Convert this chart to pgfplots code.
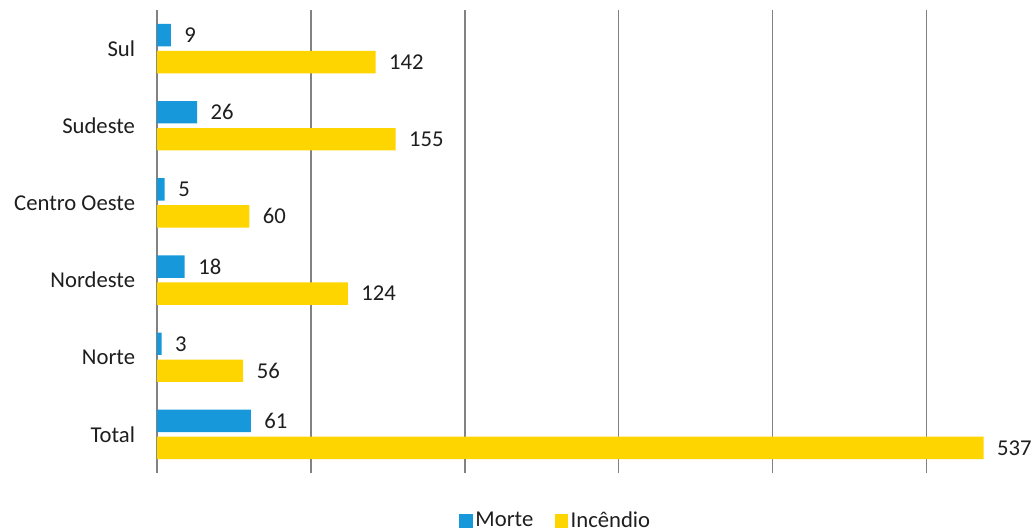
\documentclass[border=0pt]{standalone}
\usepackage{pgfplots}
\pgfplotsset{compat=1.18}
\usepackage{fontspec}
\setmainfont{Carlito}
\definecolor{morteblue}{RGB}{22,152,219}
\definecolor{incyellow}{RGB}{255,213,0}
\definecolor{gridgray}{RGB}{130,130,130}
\definecolor{txt}{RGB}{30,30,30}

\begin{document}
\begin{tikzpicture}
\fontsize{17}{20}\selectfont
\begin{axis}[
  at={(0,0)}, anchor=south west,
  scale only axis,
  width=646.5pt, height=347.25pt,
  xmin=0, xmax=560,
  ymin=-0.5, ymax=5.5,
  xbar,
  bar width=0.29,
  xtick={0,100,...,500},
  xticklabels={},
  xmajorgrids,
  major grid style={gridgray, line width=1pt},
  ytick={0,1,2,3,4,5},
  yticklabels={Total,Norte,Nordeste\hspace{4pt},Centro Oeste,Sudeste,Sul},
  yticklabel style={anchor=east, inner sep=0pt, xshift=-12pt, text=txt, font=\fontsize{17}{20}\selectfont},
  axis line style={draw=none},
  tick style={draw=none},
  /pgf/number format/assume math mode=true,
  nodes near coords,
  every node near coord/.append style={anchor=west, inner sep=0pt, xshift=10pt, text=txt, font=\fontsize{17}{20}\selectfont},
  legend style={at={(0.463,-0.104)}, anchor=center, draw=none, fill=none,
    legend columns=2, font=\fontsize{17}{20}\selectfont, text=txt,
    /tikz/every even column/.append style={column sep=14pt},
    inner sep=0pt},
  legend image code/.code={\fill[#1] (0pt,-5pt) rectangle (10pt,5pt);},
]
\addplot[fill=morteblue, draw=none, bar shift=0.175] coordinates {
  (61,0) (3,1) (18,2) (5,3) (26,4) (9,5)
};
\addlegendentry{Morte}
\addplot[fill=incyellow, draw=none, bar shift=-0.175] coordinates {
  (537,0) (56,1) (124,2) (60,3) (155,4) (142,5)
};
\addlegendentry{Incêndio}
\end{axis}
\pgfresetboundingbox
\path (-117.75pt,-43.5pt) rectangle (657.75pt,354.75pt);
\end{tikzpicture}
\end{document}
